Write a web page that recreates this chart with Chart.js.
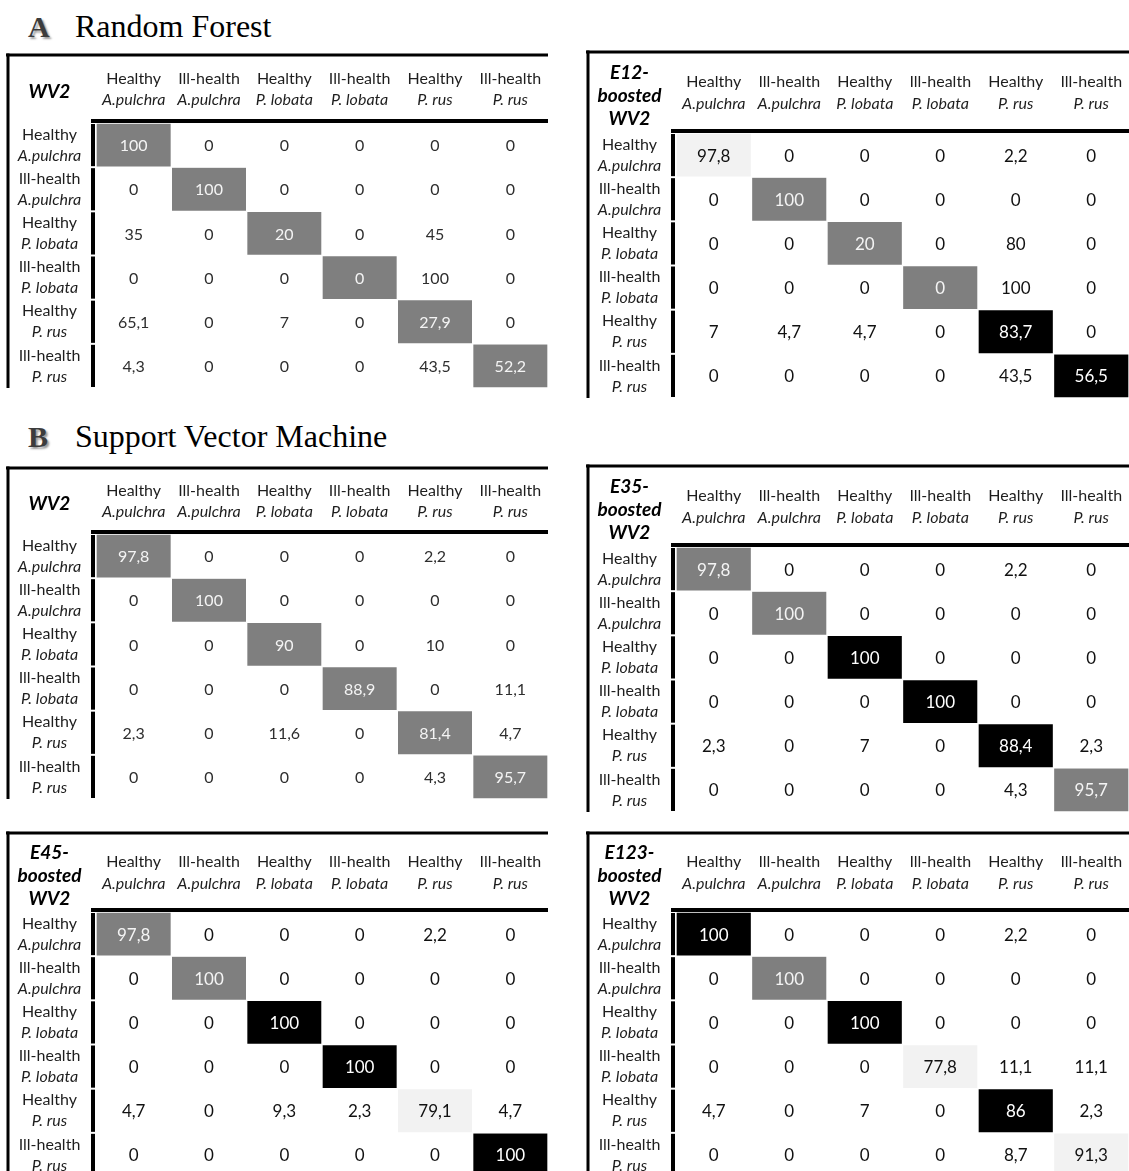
<!DOCTYPE html>
<html>
<head>
<meta charset="utf-8">
<script src="https://cdn.jsdelivr.net/npm/chart.js@4.4.1/dist/chart.umd.min.js"></script>
<style>
html,body{margin:0;padding:0;background:#fff;width:1129px;height:1171px;overflow:hidden;}
body{position:relative;}
.t{position:absolute;font-family:"Liberation Serif","Times New Roman",serif;font-size:32px;line-height:32px;color:#000;white-space:nowrap;}
.t.l{font-weight:bold;font-size:30px;color:#3c3c3c;text-shadow:2px 2px 2px #9a9a9a;}
canvas{position:absolute;}
</style>
</head>
<body>
<div class="t l" style="left:28px;top:11px;">A</div>
<div class="t" style="left:75px;top:10px;">Random Forest</div>
<div class="t l" style="left:28px;top:421px;">B</div>
<div class="t" style="left:75px;top:420px;">Support Vector Machine</div>

<canvas id="rfWV2" width="542" height="335" style="left:6px;top:53px;"></canvas>
<canvas id="rfE12" width="543" height="348" style="left:586px;top:50px;"></canvas>
<canvas id="svmWV2" width="542" height="333" style="left:6px;top:466px;"></canvas>
<canvas id="svmE35" width="543" height="348" style="left:586px;top:464px;"></canvas>
<canvas id="svmE45" width="542" height="346" style="left:6px;top:831px;"></canvas>
<canvas id="svmE123" width="543" height="346" style="left:586px;top:831px;"></canvas>

<script>
// ---------- DATA ----------
const conditions = ['Healthy','Ill-health','Healthy','Ill-health','Healthy','Ill-health'];
const species = ['A.pulchra','A.pulchra','P. lobata','P. lobata','P. rus','P. rus'];

// rows = reference class, columns = predicted class (%)
const rfWV2 = [
  [100,0,0,0,0,0],
  [0,100,0,0,0,0],
  [35,0,20,0,45,0],
  [0,0,0,0,100,0],
  [65.1,0,7,0,27.9,0],
  [4.3,0,0,0,43.5,52.2]
];
const rfE12 = [
  [97.8,0,0,0,2.2,0],
  [0,100,0,0,0,0],
  [0,0,20,0,80,0],
  [0,0,0,0,100,0],
  [7,4.7,4.7,0,83.7,0],
  [0,0,0,0,43.5,56.5]
];
const svmWV2 = [
  [97.8,0,0,0,2.2,0],
  [0,100,0,0,0,0],
  [0,0,90,0,10,0],
  [0,0,0,88.9,0,11.1],
  [2.3,0,11.6,0,81.4,4.7],
  [0,0,0,0,4.3,95.7]
];
const svmE35 = [
  [97.8,0,0,0,2.2,0],
  [0,100,0,0,0,0],
  [0,0,100,0,0,0],
  [0,0,0,100,0,0],
  [2.3,0,7,0,88.4,2.3],
  [0,0,0,0,4.3,95.7]
];
const svmE45 = [
  [97.8,0,0,0,2.2,0],
  [0,100,0,0,0,0],
  [0,0,100,0,0,0],
  [0,0,0,100,0,0],
  [4.7,0,9.3,2.3,79.1,4.7],
  [0,0,0,0,0,100]
];
const svmE123 = [
  [100,0,0,0,2.2,0],
  [0,100,0,0,0,0],
  [0,0,100,0,0,0],
  [0,0,0,77.8,11.1,11.1],
  [4.7,0,7,0,86,2.3],
  [0,0,0,0,8.7,91.3]
];

// diagonal cell class: g = grey, k = black, l = light
const rfWV2Diag  = ['g','g','g','g','g','g'];
const rfE12Diag  = ['l','g','g','g','k','k'];
const svmWV2Diag = ['g','g','g','g','g','g'];
const svmE35Diag = ['g','g','k','k','k','g'];
const svmE45Diag = ['g','g','k','k','l','k'];
const svmE123Diag= ['k','g','k','l','k','l'];

const rfWV2Corner  = ['WV2'];
const rfE12Corner  = ['E12-','boosted','WV2'];
const svmWV2Corner = ['WV2'];
const svmE35Corner = ['E35-','boosted','WV2'];
const svmE45Corner = ['E45-','boosted','WV2'];
const svmE123Corner= ['E123-','boosted','WV2'];

// ---------- STYLE ----------
const fill = {g:'#7f7f7f', k:'#000000', l:'#f2f2f2'};
const fillText = {g:'#f4f4f4', k:'#ffffff', l:'#111111'};
const FONT = 'Lato, "Open Sans", sans-serif';

const panels = [
  {id:'rfWV2',  values:rfWV2,  diag:rfWV2Diag,  corner:rfWV2Corner,  headerH:70, valColor:'#2e2e2e', valSize:16},
  {id:'rfE12',  values:rfE12,  diag:rfE12Diag,  corner:rfE12Corner,  headerH:83, valColor:'#111', valSize:17},
  {id:'svmWV2', values:svmWV2, diag:svmWV2Diag, corner:svmWV2Corner, headerH:68, valColor:'#2e2e2e', valSize:16},
  {id:'svmE35', values:svmE35, diag:svmE35Diag, corner:svmE35Corner, headerH:83, valColor:'#111', valSize:17},
  {id:'svmE45', values:svmE45, diag:svmE45Diag, corner:svmE45Corner, headerH:81, valColor:'#111', valSize:17},
  {id:'svmE123',values:svmE123,diag:svmE123Diag,corner:svmE123Corner,headerH:81, valColor:'#111', valSize:17}
];

const fmt = v => String(v).replace('.', ',');

const tablePlugin = {
  id: 'confTable',
  afterDatasetsDraw(chart, args, opts) {
    const p = opts.panel;
    const {ctx, chartArea: ca, scales: {x, y}} = chart;
    const W = chart.width, H = chart.height;
    ctx.save();
    ctx.textAlign = 'center';
    ctx.textBaseline = 'middle';

    // cell values, positioned on the bar elements
    chart.data.datasets.forEach((ds, r) => {
      const meta = chart.getDatasetMeta(r);
      meta.data.forEach((bar, c) => {
        const cy = (bar.y + bar.base) / 2;
        ctx.font = p.valSize + 'px ' + FONT;
        ctx.fillStyle = r === c ? fillText[p.diag[r]] : p.valColor;
        ctx.fillText(fmt(p.values[r][c]), bar.x, cy + 1);
      });
    });

    // frame lines
    ctx.fillStyle = '#000';
    ctx.fillRect(0, 0.5, W, 3);                     // top border
    ctx.fillRect(0.5, 0.5, 3, H);                   // left border
    ctx.fillRect(ca.left - 5, ca.top - 4, ca.right - ca.left + 5, 4); // header rule
    for (let r = 0; r < 6; r++) {                   // row-label rule
      const y0 = y.getPixelForValue(r) + 1;
      const y1 = y.getPixelForValue(r + 1) - 1;
      ctx.fillRect(ca.left - 5, y0, 4, y1 - y0);
    }

    // header
    const hTop = 2, hBot = ca.top - 2, mid = (hTop + hBot) / 2;
    ctx.fillStyle = '#1e1e1e';
    for (let c = 0; c < 6; c++) {
      const cx = x.getPixelForValue(c);
      ctx.font = '16px ' + FONT;
      ctx.fillText(conditions[c], cx, mid + 1.5 - 10.75);
      ctx.font = 'italic 16px ' + FONT;
      ctx.fillText(species[c], cx, mid + 1.5 + 10.75);
    }
    // corner label
    const lx = (2 + ca.left - 5) / 2;
    ctx.fillStyle = '#000';
    ctx.font = 'italic bold 19px ' + FONT;
    const n = p.corner.length, pitch = 23;
    p.corner.forEach((t, i) => {
      ctx.fillText(t, lx, mid + 4 - (n - 1) * pitch / 2 + i * pitch);
    });
    // row labels
    ctx.fillStyle = '#1e1e1e';
    for (let r = 0; r < 6; r++) {
      const cy = y.getPixelForValue(r + 0.5);
      ctx.font = '16px ' + FONT;
      ctx.fillText(conditions[r], lx, cy - 10.5);
      ctx.font = 'italic 16px ' + FONT;
      ctx.fillText(species[r], lx, cy + 10.5);
    }
    ctx.restore();
  }
};

function build(p) {
  const cols = [0,1,2,3,4,5];
  const datasets = p.values.map((row, r) => ({
    label: conditions[r] + ' ' + species[r],
    data: cols.map(() => [r, r + 1]),
    backgroundColor: cols.map(c => r === c ? fill[p.diag[r]] : '#ffffff'),
    borderColor: '#ffffff',
    borderWidth: 1,
    borderSkipped: false,
    grouped: false,
    barPercentage: 1,
    categoryPercentage: 1
  }));
  new Chart(document.getElementById(p.id), {
    type: 'bar',
    data: { labels: cols.map(c => conditions[c] + ' ' + species[c]), datasets },
    options: {
      responsive: false,
      animation: false,
      devicePixelRatio: 1,
      events: [],
      layout: { padding: { left: 90, top: p.headerH, right: 0, bottom: 0 } },
      plugins: { legend: { display: false }, tooltip: { enabled: false }, confTable: { panel: p } },
      scales: {
        x: { type: 'category', display: false, offset: true },
        y: { type: 'linear', min: 0, max: 6, reverse: true, display: false }
      }
    },
    plugins: [tablePlugin]
  });
}

const fontLoads = ['16px Lato','17px Lato','italic 16px Lato','italic bold 19px Lato'].map(f => document.fonts.load(f).catch(()=>null));
Promise.all(fontLoads).then(() => panels.forEach(build), () => panels.forEach(build));
</script>
</body>
</html>
